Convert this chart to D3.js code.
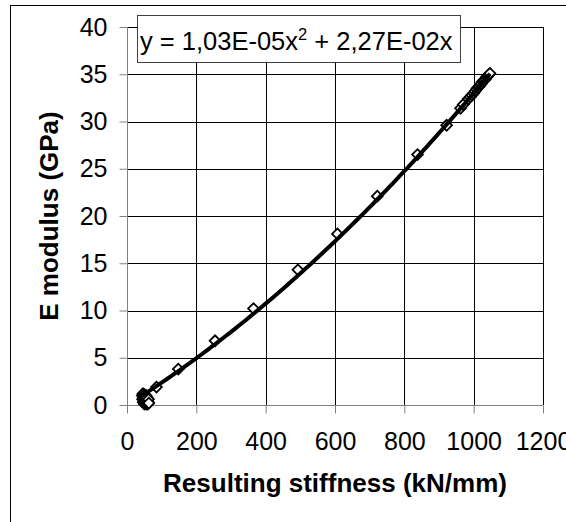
<!DOCTYPE html>
<html>
<head>
<meta charset="utf-8">
<script src="https://cdn.jsdelivr.net/npm/d3@7"></script>
<style>
  html, body { margin: 0; padding: 0; background: #fff; }
  svg { display: block; font-family: Arial, "Liberation Sans", sans-serif; }
</style>
</head>
<body>
<svg id="chart" width="566" height="522"></svg>
<script>
// ---- data ----
const stiffness = [44, 45, 46, 47, 47, 48, 49, 50, 50, 51, 52, 52, 53, 54, 55, 55, 56, 57, 58, 58, 59, 60, 61, 62, 63,
                   85, 148, 254, 365, 493, 607, 722, 838, 922, 962, 970,
                   985, 990, 995, 1000, 1004, 1008, 1012, 1016, 1019, 1022, 1025, 1028, 1031, 1034, 1037, 1040, 1043, 1045, 1047];
const eModulus  = [1.0, 0.6, 1.2, 0.3, 0.8, 1.0, 0.4, 0.1, 0.7, 1.1, 0.3, 0.9, 0.5, 0.2, 0.6, 1.0, 0.1, 0.4, 0.2, 0.8, 0.5, 0.1, 0.3, 0.6, 0.2,
                   1.9, 3.8, 6.8, 10.2, 14.3, 18.1, 22.1, 26.5, 29.6, 31.4, 31.8,
                   32.4, 32.6, 32.8, 33.0, 33.2, 33.4, 33.6, 33.7, 33.9, 34.0, 34.2, 34.3, 34.4, 34.5, 34.7, 34.8, 34.9, 35.0, 35.1];
const trendCoefficients = [1.03e-5, 2.27e-2]; // a*x^2 + b*x, as printed on the chart
const xTicks = [0, 200, 400, 600, 800, 1000, 1200];
const yTicks = [0, 5, 10, 15, 20, 25, 30, 35, 40];
const xTitle = "Resulting stiffness (kN/mm)";
const yTitle = "E modulus (GPa)";

const svg = d3.select("#chart");
const FS = 25;
const TFS = 26;

// outer chart border
svg.append("rect").attr("x", 10.5).attr("y", 5.5).attr("width", 700).attr("height", 700)
  .attr("fill", "none").attr("stroke", "#000").attr("stroke-width", 1);

const x = d3.scaleLinear().domain([0, 1200]).range([127, 543]);
const y = d3.scaleLinear().domain([0, 40]).range([405, 27]);

// gridlines
const grid = svg.append("g");
grid.selectAll("line.v").data(xTicks.slice(1)).join("line")
  .attr("x1", d => Math.round(x(d)) + 0.5).attr("x2", d => Math.round(x(d)) + 0.5)
  .attr("y1", y(0)).attr("y2", y(40))
  .attr("stroke", "#000").attr("stroke-width", 1);
grid.selectAll("line.h").data(yTicks.slice(1)).join("line")
  .attr("y1", d => Math.round(y(d)) + 0.5).attr("y2", d => Math.round(y(d)) + 0.5)
  .attr("x1", x(0)).attr("x2", x(1200))
  .attr("stroke", "#000").attr("stroke-width", 1);

// axes
const xAxis = svg.append("g").attr("transform", `translate(0,${Math.round(y(0)) + 0.5})`)
  .call(d3.axisBottom(x).tickValues(xTicks).tickSize(8).tickPadding(19).tickFormat(d3.format("d")));
const yAxis = svg.append("g").attr("transform", `translate(${Math.round(x(0)) + 0.5},0)`)
  .call(d3.axisLeft(y).tickValues(yTicks).tickSize(8).tickPadding(12).tickFormat(d3.format("d")));
[xAxis, yAxis].forEach(g => {
  g.select(".domain").attr("stroke", "#808080");
  g.selectAll(".tick line").attr("stroke", "#808080");
  g.selectAll(".tick text").attr("fill", "#000").style("font-size", FS + "px")
    .style("font-family", "Arial, 'Liberation Sans', sans-serif");
});
xAxis.select(".domain").attr("d", `M${x(0)},0H${x(1200)}`);
yAxis.select(".domain").attr("d", `M0,${y(0)}V${y(40)}`);

// points
const pts = stiffness.map((s, i) => ({ s, e: eModulus[i] }));
const sq = d3.symbol().type(d3.symbolSquare).size(58);
svg.append("g").selectAll("path").data(pts).join("path")
  .attr("d", sq)
  .attr("transform", d => `translate(${x(d.s)},${y(d.e)}) rotate(45)`)
  .attr("fill", "#fff").attr("stroke", "#000").attr("stroke-width", 1.8);

// trendline (polynomial from the displayed equation)
const xs = d3.extent(stiffness);
const trendX = d3.range(xs[0], xs[1] + 0.001, (xs[1] - xs[0]) / 100);
const line = d3.line().x(d => x(d)).y(d => y(trendCoefficients[0] * d * d + trendCoefficients[1] * d));
svg.append("path").datum(trendX).attr("d", line)
  .attr("fill", "none").attr("stroke", "#000").attr("stroke-width", 4);

// equation box
svg.append("rect").attr("x", 137.5).attr("y", 15.5).attr("width", 323).attr("height", 47)
  .attr("fill", "#fff").attr("stroke", "#404040").attr("stroke-width", 1);
const eq = svg.append("text").attr("x", 140).attr("y", 50).style("font-size", "25.5px").attr("fill", "#000");
eq.append("tspan").text("y = 1,03E-05x");
eq.append("tspan").attr("dy", -10).style("font-size", "16.5px").text("2");
eq.append("tspan").attr("dy", 10).text(" + 2,27E-02x");

// titles
svg.append("text").attr("x", (x(0) + x(1200)) / 2).attr("y", 492).attr("text-anchor", "middle")
  .style("font-size", TFS + "px").style("font-weight", "bold").text(xTitle);
svg.append("text").attr("transform", `translate(58,${(y(0) + y(40)) / 2}) rotate(-90)`).attr("text-anchor", "middle")
  .style("font-size", TFS + "px").style("font-weight", "bold").text(yTitle);
</script>
</body>
</html>
